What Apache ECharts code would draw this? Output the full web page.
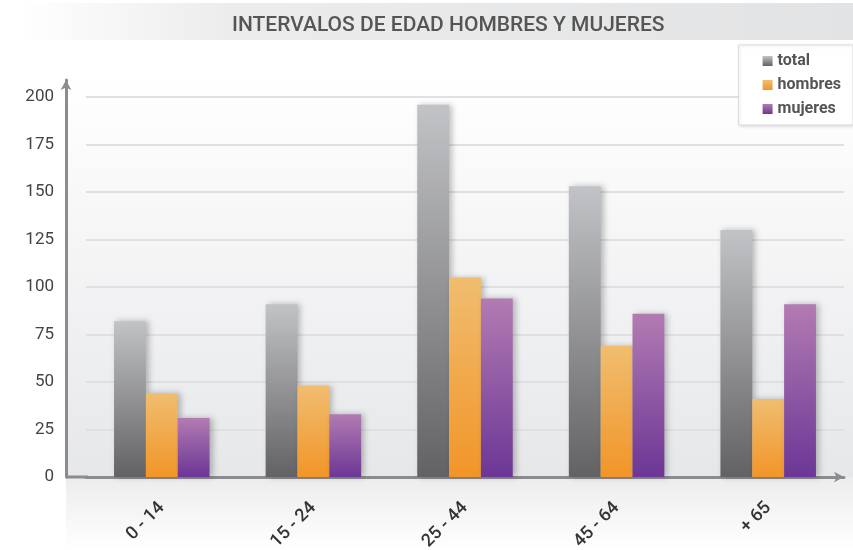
<!DOCTYPE html>
<html>
<head>
<meta charset="utf-8">
<script src="https://cdn.jsdelivr.net/npm/echarts@6/dist/echarts.min.js"></script>
<style>
  html, body { margin: 0; padding: 0; background: #fff; }
  #chart { width: 853px; height: 550px; }
</style>
</head>
<body>
<div id="chart"></div>
<script>
// datos
const categories = ['0 - 14', '15 - 24', '25 - 44', '45 - 64', '+ 65'];
const total = [82, 91, 196, 153, 130];
const hombres = [44, 48, 105, 69, 41];
const mujeres = [31, 33, 94, 86, 91];
const yTicks = [0, 25, 50, 75, 100, 125, 150, 175, 200];

const chart = echarts.init(document.getElementById('chart'));

const grad = (top, bottom) => new echarts.graphic.LinearGradient(0, 0, 0, 1, [
  { offset: 0, color: top },
  { offset: 1, color: bottom }
]);

const barShadow = {
  shadowColor: 'rgba(0, 0, 0, 0.25)',
  shadowBlur: 6,
  shadowOffsetX: 3,
  shadowOffsetY: 0
};

const font = 'Roboto, "Noto Sans", sans-serif';

const option = {
  backgroundColor: '#fff',
  animation: false,
  graphic: [
    // banda del título
    {
      type: 'rect', z: -10, silent: true,
      shape: { x: 18, y: 3, width: 835, height: 37 },
      style: {
        fill: new echarts.graphic.LinearGradient(0, 0, 1, 0, [
          { offset: 0, color: '#ffffff' },
          { offset: 0.25, color: '#ececed' },
          { offset: 1, color: '#e2e3e4' }
        ])
      }
    },
    // fondo del área de trazado
    {
      type: 'rect', z: -10, silent: true,
      shape: { x: 66, y: 80, width: 787, height: 397 },
      style: { fill: grad('#ffffff', '#e6e7e9') }
    },
    // fondo bajo el eje
    {
      type: 'rect', z: -10, silent: true,
      shape: { x: 66, y: 477, width: 787, height: 73 },
      style: { fill: grad('#ececed', '#ffffff') }
    },
    // prolongación izquierda del eje X
    {
      type: 'line', z: 5, silent: true,
      shape: { x1: 66, y1: 477, x2: 88, y2: 477 },
      style: { stroke: '#8c8c8e', lineWidth: 3 }
    }
  ],
  title: {
    text: 'INTERVALOS DE EDAD HOMBRES Y MUJERES',
    left: 227,
    top: 10,
    textStyle: {
      fontFamily: font,
      fontSize: 21,
      fontWeight: 500,
      color: '#555'
    }
  },
  legend: {
    orient: 'vertical',
    right: 0,
    top: 45,
    icon: 'rect',
    padding: [8, 12, 8, 24],
    itemGap: 8,
    itemWidth: 10,
    itemHeight: 10,
    backgroundColor: '#fff',
    borderColor: '#dcdcdc',
    borderWidth: 1,
    shadowColor: 'rgba(0,0,0,0.12)',
    shadowBlur: 3,
    shadowOffsetX: 1,
    shadowOffsetY: 1,
    textStyle: {
      fontFamily: font,
      fontSize: 16,
      fontWeight: 'bold',
      color: '#555'
    },
    data: ['total', 'hombres', 'mujeres']
  },
  grid: {
    left: 86,
    right: 9,
    top: 80,
    bottom: 73,
    outerBoundsMode: 'none'
  },
  xAxis: {
    type: 'category',
    data: categories,
    axisLine: {
      lineStyle: { color: '#8c8c8e', width: 3 },
      symbol: ['none', 'arrow'],
      symbolSize: [8, 10]
    },
    axisTick: { show: false },
    axisLabel: {
      rotate: 45,
      margin: 28,
      fontFamily: font,
      fontSize: 18,
      fontWeight: 500,
      color: '#333'
    },
    splitLine: { show: false }
  },
  yAxis: {
    type: 'value',
    min: 0,
    max: 209,
    interval: 25,
    offset: 20,
    axisLine: {
      show: true,
      lineStyle: { color: '#8c8c8e', width: 3 },
      symbol: ['none', 'arrow'],
      symbolSize: [8, 10]
    },
    axisTick: { show: false },
    axisLabel: {
      margin: 12,
      showMaxLabel: false,
      fontFamily: font,
      fontSize: 17,
      color: '#444',
      formatter: (v) => (yTicks.includes(v) ? String(v) : '')
    },
    splitLine: {
      show: true,
      showMaxLine: false,
      lineStyle: { color: '#e0e0e2', width: 2 }
    }
  },
  series: [
    {
      name: 'total',
      type: 'bar',
      data: total,
      barGap: '0%',
      barCategoryGap: '37%',
      itemStyle: Object.assign({ color: grad('#c2c3c6', '#626264') }, barShadow)
    },
    {
      name: 'hombres',
      type: 'bar',
      data: hombres,
      itemStyle: Object.assign({ color: grad('#f0bd70', '#f29528') }, barShadow)
    },
    {
      name: 'mujeres',
      type: 'bar',
      data: mujeres,
      itemStyle: Object.assign({ color: grad('#b27bb2', '#6c3696') }, barShadow)
    }
  ]
};

chart.setOption(option);
</script>
</body>
</html>
